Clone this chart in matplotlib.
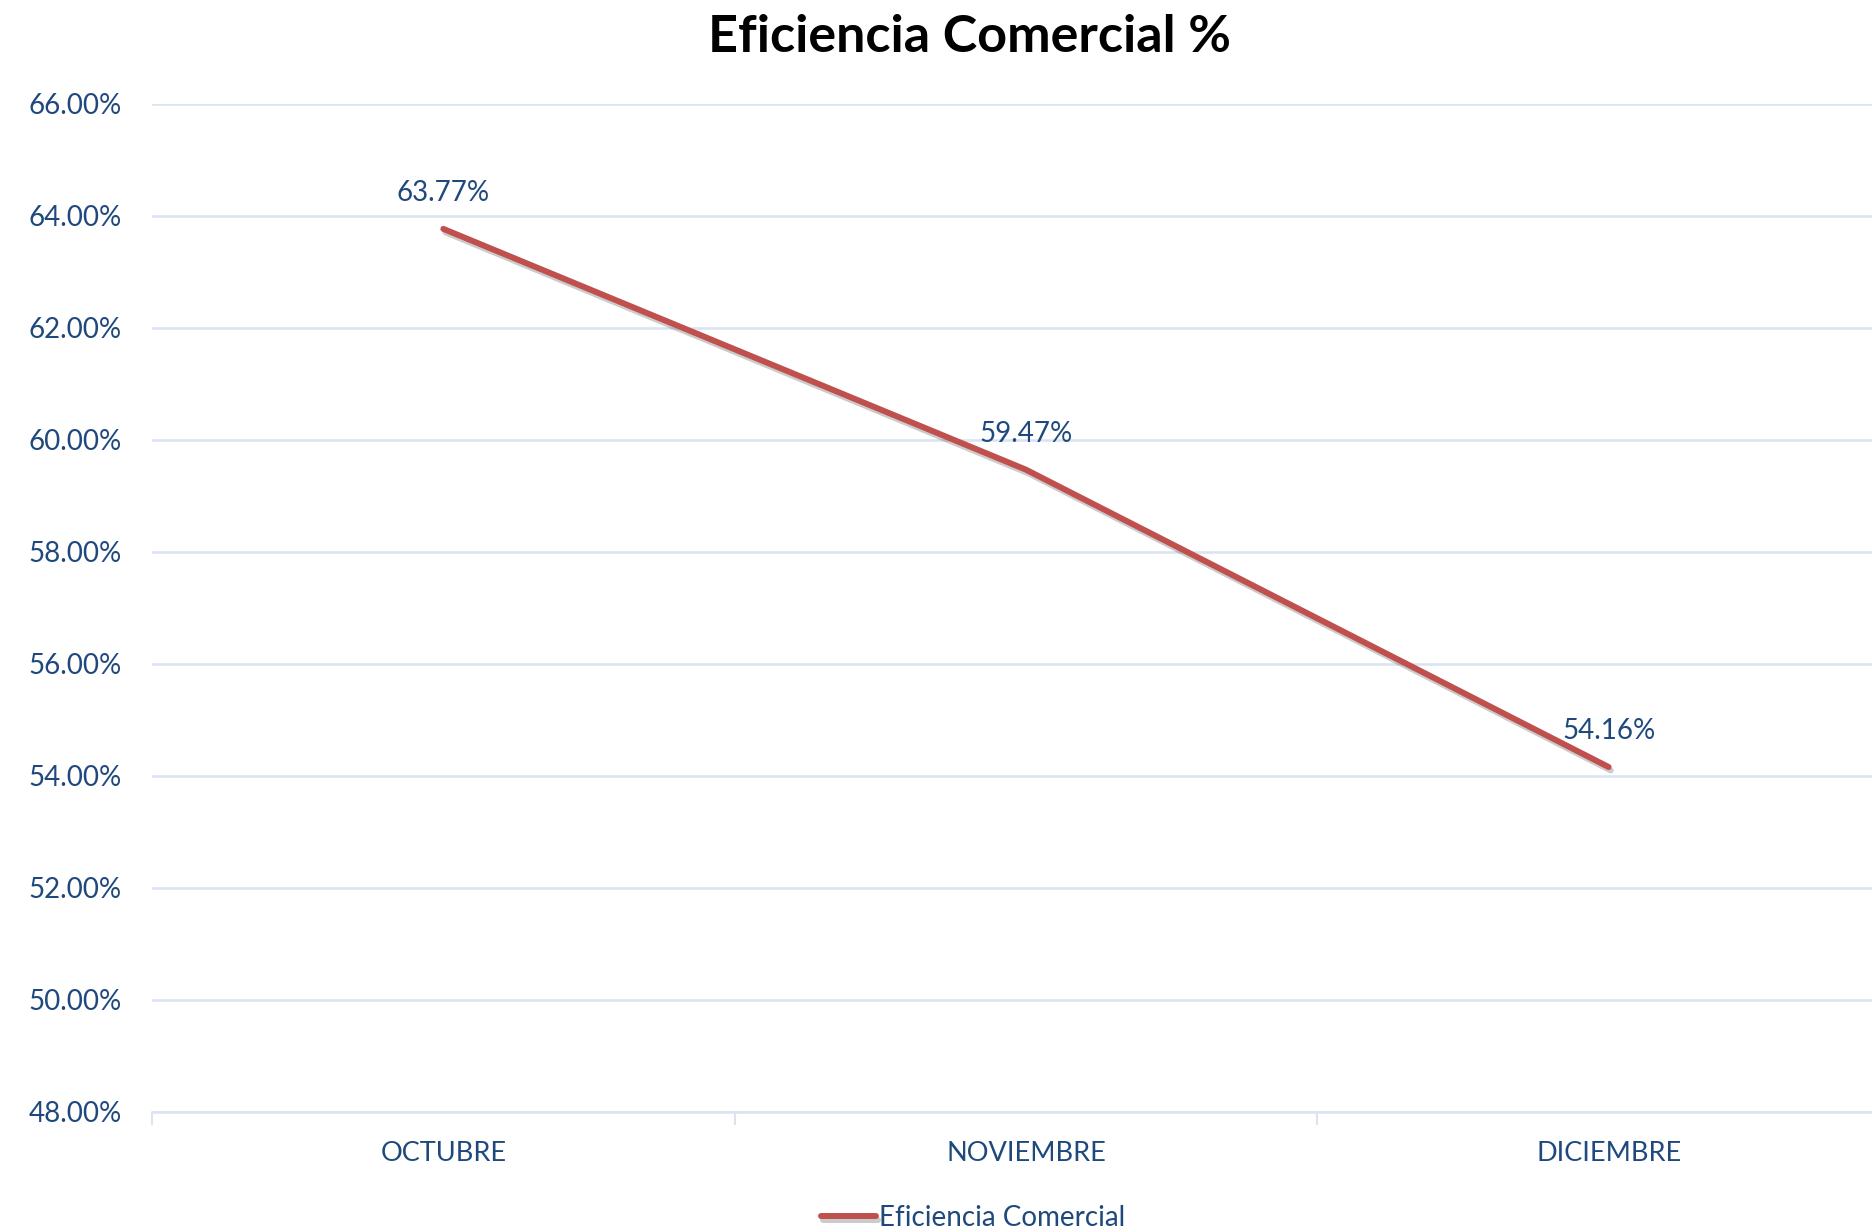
import numpy as np
import matplotlib
matplotlib.use("Agg")
import matplotlib.pyplot as plt
import matplotlib.ticker as ticker
import matplotlib.patheffects as pe

# Datos
meses = ["OCTUBRE", "NOVIEMBRE", "DICIEMBRE"]
eficiencia = [63.77, 59.47, 54.16]
serie = "Eficiencia Comercial"

azul = "#1F497D"
rojo = "#C0504D"
rejilla = "#D9E3F1"

plt.rcParams['font.family'] = ['Lato', 'DejaVu Sans']

fig = plt.figure(figsize=(18.72, 12.32), dpi=100)
ax = fig.add_axes([152 / 1872, 1 - 1112 / 1232, 1748 / 1872, 1008 / 1232])

x = np.arange(len(meses))
linea, = ax.plot(x, eficiencia, color=rojo, lw=4.3, solid_capstyle='round',
                 label=serie, zorder=3,
                 path_effects=[pe.SimpleLineShadow(offset=(1.5, -2.5), alpha=0.3, shadow_color='#555555'),
                               pe.Normal()])

for xi, v in zip(x, eficiencia):
    ax.annotate(f"{v:.2f}%", (xi, v), xytext=(0, 26), textcoords='offset points',
                ha='center', va='center', fontsize=20, color=azul)

ax.set_xlim(-0.5, len(meses) - 0.5)
ax.set_ylim(48, 66)
ax.yaxis.set_major_locator(ticker.MultipleLocator(2))
ax.yaxis.set_major_formatter(ticker.FuncFormatter(lambda v, p: f"{v:.2f}%"))
ax.grid(axis='y', color=rejilla, lw=1.8)
ax.set_axisbelow(True)

ax.set_xticks(x)
ax.set_xticklabels(meses)
ax.set_xticks(np.arange(-0.5, len(meses), 1), minor=True)
ax.tick_params(axis='x', which='major', length=0, pad=21, labelsize=19.5, labelcolor=azul)
ax.tick_params(axis='x', which='minor', length=9, width=1.5, color=rejilla)
ax.tick_params(axis='y', length=0, pad=22, labelsize=20, labelcolor=azul)

for s in ['top', 'right', 'left']:
    ax.spines[s].set_visible(False)
ax.spines['bottom'].set_color(rejilla)
ax.spines['bottom'].set_linewidth(1.8)

fig.text(812 / 1568, 1 - 31 / 1032, "Eficiencia Comercial %", ha='center', va='center',
         fontsize=37.5, fontweight='bold', color='black')

fig.legend(handles=[linea], loc='center', bbox_to_anchor=(973 / 1872, 1 - 1218 / 1232),
           frameon=False, fontsize=20, labelcolor=azul, handlelength=2.0, handletextpad=0.1)

fig.savefig("out.png", dpi=100)
